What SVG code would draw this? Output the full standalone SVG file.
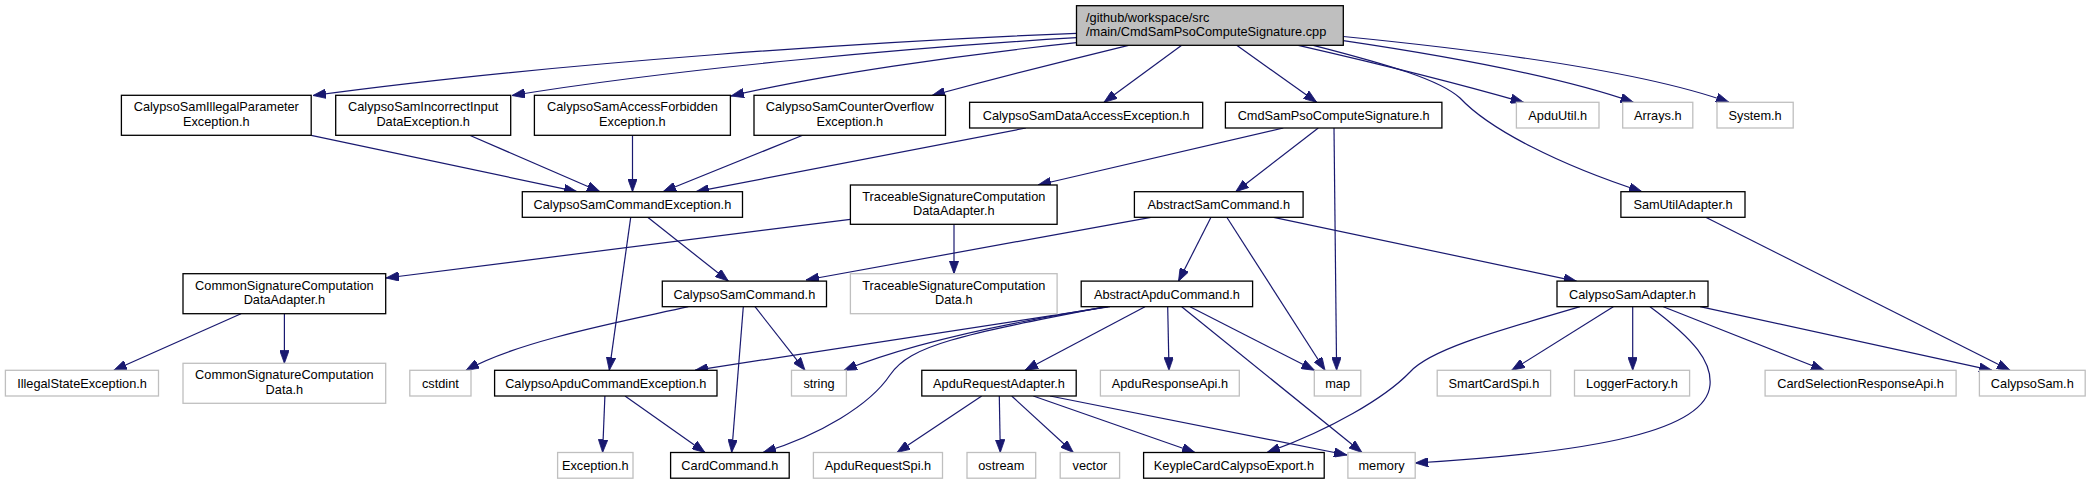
<svg xmlns="http://www.w3.org/2000/svg" width="2091" height="484" viewBox="0 0 2091 484">
<style>
rect{fill:#fff;stroke:#000;stroke-width:1.3}
.u rect{stroke:#bfbfbf}
.m rect{fill:#bfbfbf}
text{font-family:"Liberation Sans",Arial,Helvetica,sans-serif;font-size:12.75px;fill:#000;text-anchor:middle}
.m text{text-anchor:start}
#edges path{fill:none;stroke:#191970;stroke-width:1.2;marker-end:url(#ah)}
</style>
<defs>
<marker id="ah" markerUnits="userSpaceOnUse" viewBox="0 0 13 9.5" refX="13" refY="4.75" markerWidth="13" markerHeight="9.5" orient="auto">
<path d="M0,0 L13,4.75 L0,9.5 z" fill="#191970" stroke="#191970" stroke-width="0.8"/>
</marker>
</defs>
<g id="edges">
<path d="M1076.5,33.3 C880,41 560,62 313,95.5"/>
<path d="M1076.5,37.7 C920,47 680,68 512,95.5"/>
<path d="M1076.5,42.7 C960,55 820,75 731,96"/>
<path d="M1128.5,45.3 C1060,62 990,80 932,95.5"/>
<path d="M1181.7,45.3 L1104,102.3"/>
<path d="M1236.7,45.3 L1316.7,102.3"/>
<path d="M1298.3,45.3 C1380,64 1460,84 1523.6,102.3"/>
<path d="M1343.3,40.7 C1460,58 1570,80 1633.4,102.3"/>
<path d="M1343.3,36.5 C1480,50 1640,70 1729,102.3"/>
<path d="M1313.3,45.3 C1390,65 1440,80 1460,98 C1490,130 1560,165 1642,191.7"/>
<path d="M311.2,135.3 L577,191.7"/>
<path d="M469.6,135.3 L600,191.7"/>
<path d="M632.5,135.3 L632.5,191.7"/>
<path d="M802.7,135.3 L663,191.7"/>
<path d="M1025.9,128 L696,191.7"/>
<path d="M1283.3,128 L1038,185"/>
<path d="M1318.3,128 L1235.7,191.7"/>
<path d="M1334,128 L1336.6,370.3"/>
<path d="M647.7,217.3 L728.3,281"/>
<path d="M630.7,217.3 L609.3,370.3"/>
<path d="M850.4,219.3 L386,278"/>
<path d="M954,224.3 L954,273.7"/>
<path d="M1150.9,217.3 L806,280"/>
<path d="M1211,217.3 L1178.5,281.3"/>
<path d="M1226.8,217.3 L1325,370.3"/>
<path d="M1273.6,217.3 L1576.7,281.3"/>
<path d="M1705.7,217.3 L2010,370.3"/>
<path d="M241,313.7 L113.8,370.3"/>
<path d="M284.4,313.7 L284.4,363.3"/>
<path d="M688.3,306.7 C630,320 520,340 466,370.3"/>
<path d="M755,306.7 L805,370.3"/>
<path d="M743.3,306.7 L731.7,452.5"/>
<path d="M604.9,396 L602.6,452.5"/>
<path d="M625,396 L705,452.5"/>
<path d="M1110,306.7 L695,370.3"/>
<path d="M1108,306.7 Q930,335 844,370.3"/>
<path d="M1106,306.7 C960,335 910,345 890,375 C870,405 820,435 763,452.5"/>
<path d="M1145,306.7 L1025,370.3"/>
<path d="M1167.7,306.7 L1169,370.3"/>
<path d="M1190,306.7 L1314.5,370.3"/>
<path d="M1181.7,306.7 L1362,452.5"/>
<path d="M981.7,396 L897,452.5"/>
<path d="M999.3,396 L1000.3,452.5"/>
<path d="M1011.7,396 L1073.3,452.5"/>
<path d="M1033.3,396 L1195,452.5"/>
<path d="M1050,396 L1347,455"/>
<path d="M1580,306.7 C1490,333 1430,350 1410,372 C1385,398 1330,430 1267,452.5"/>
<path d="M1613.3,306.7 L1511.7,370.3"/>
<path d="M1632.7,306.7 L1632.7,370.3"/>
<path d="M1650,306.7 C1695,340 1712,362 1710,385 C1706,430 1600,452 1415.3,463"/>
<path d="M1663.3,306.7 L1824,370.3"/>
<path d="M1700,306.7 L1992,370.3"/>
</g>
<g id="main" class="m"><rect x="1076.5" y="5.7" width="266.8" height="39.6"/><text x="1086" y="21.5">/github/workspace/src</text><text x="1086" y="36">/main/CmdSamPsoComputeSignature.cpp</text></g>
<g id="n1"><rect x="121.4" y="95.3" width="189.8" height="40"/><text x="216.3" y="111.1">CalypsoSamIllegalParameter</text><text x="216.3" y="125.6">Exception.h</text></g>
<g id="n2"><rect x="335.7" y="95.3" width="175" height="40"/><text x="423.2" y="111.1">CalypsoSamIncorrectInput</text><text x="423.2" y="125.6">DataException.h</text></g>
<g id="n3"><rect x="534.4" y="95.3" width="196" height="40"/><text x="632.4" y="111.1">CalypsoSamAccessForbidden</text><text x="632.4" y="125.6">Exception.h</text></g>
<g id="n4"><rect x="754" y="95.3" width="191.5" height="40"/><text x="849.8" y="111.1">CalypsoSamCounterOverflow</text><text x="849.8" y="125.6">Exception.h</text></g>
<g id="n5"><rect x="969.6" y="102.3" width="233.1" height="25.7"/><text x="1086.2" y="119.8">CalypsoSamDataAccessException.h</text></g>
<g id="n6"><rect x="1225.4" y="102.3" width="216.5" height="25.7"/><text x="1333.7" y="119.8">CmdSamPsoComputeSignature.h</text></g>
<g id="n7" class="u"><rect x="1516.4" y="102.3" width="82.6" height="25.7"/><text x="1557.7" y="119.8">ApduUtil.h</text></g>
<g id="n8" class="u"><rect x="1622.7" y="102.3" width="70.1" height="25.7"/><text x="1657.8" y="119.8">Arrays.h</text></g>
<g id="n9" class="u"><rect x="1717" y="102.3" width="76.2" height="25.7"/><text x="1755.1" y="119.8">System.h</text></g>
<g id="n10"><rect x="522.3" y="191.7" width="220.2" height="25.6"/><text x="632.4" y="209.2">CalypsoSamCommandException.h</text></g>
<g id="n11"><rect x="850.4" y="185" width="206.7" height="39.3"/><text x="953.8" y="200.7">TraceableSignatureComputation</text><text x="953.8" y="215.1">DataAdapter.h</text></g>
<g id="n12"><rect x="1134.4" y="191.7" width="168.7" height="25.6"/><text x="1218.8" y="209.2">AbstractSamCommand.h</text></g>
<g id="n13"><rect x="1620.9" y="191.7" width="124.1" height="25.6"/><text x="1683" y="209.2">SamUtilAdapter.h</text></g>
<g id="n14"><rect x="183" y="273.7" width="202.7" height="40"/><text x="284.4" y="289.5">CommonSignatureComputation</text><text x="284.4" y="304">DataAdapter.h</text></g>
<g id="n15"><rect x="662.3" y="281.1" width="164.2" height="25.6"/><text x="744.4" y="298.6">CalypsoSamCommand.h</text></g>
<g id="n16" class="u"><rect x="850.4" y="273.7" width="206.7" height="40"/><text x="953.8" y="289.5">TraceableSignatureComputation</text><text x="953.8" y="304">Data.h</text></g>
<g id="n17"><rect x="1081.2" y="281.1" width="171.4" height="25.6"/><text x="1166.9" y="298.6">AbstractApduCommand.h</text></g>
<g id="n18"><rect x="1557" y="281.1" width="151" height="25.6"/><text x="1632.5" y="298.6">CalypsoSamAdapter.h</text></g>
<g id="n19" class="u"><rect x="5.4" y="370.3" width="153.1" height="25.7"/><text x="82" y="387.8">IllegalStateException.h</text></g>
<g id="n20" class="u"><rect x="183" y="363.3" width="202.7" height="40"/><text x="284.4" y="379.1">CommonSignatureComputation</text><text x="284.4" y="393.6">Data.h</text></g>
<g id="n21" class="u"><rect x="409.8" y="370.3" width="61.2" height="25.7"/><text x="440.4" y="387.8">cstdint</text></g>
<g id="n22"><rect x="494.6" y="370.3" width="222.4" height="25.7"/><text x="605.8" y="387.8">CalypsoApduCommandException.h</text></g>
<g id="n23" class="u"><rect x="791.5" y="370.3" width="54.9" height="25.7"/><text x="819" y="387.8">string</text></g>
<g id="n24"><rect x="921.8" y="370.3" width="154.4" height="25.7"/><text x="999" y="387.8">ApduRequestAdapter.h</text></g>
<g id="n25" class="u"><rect x="1100.4" y="370.3" width="138.9" height="25.7"/><text x="1169.9" y="387.8">ApduResponseApi.h</text></g>
<g id="n26" class="u"><rect x="1314.3" y="370.3" width="46.5" height="25.7"/><text x="1337.6" y="387.8">map</text></g>
<g id="n27" class="u"><rect x="1437.2" y="370.3" width="113.4" height="25.7"/><text x="1493.9" y="387.8">SmartCardSpi.h</text></g>
<g id="n28" class="u"><rect x="1574.5" y="370.3" width="115.1" height="25.7"/><text x="1632" y="387.8">LoggerFactory.h</text></g>
<g id="n29" class="u"><rect x="1765.1" y="370.3" width="191" height="25.7"/><text x="1860.6" y="387.8">CardSelectionResponseApi.h</text></g>
<g id="n30" class="u"><rect x="1979.4" y="370.3" width="105.8" height="25.7"/><text x="2032.3" y="387.8">CalypsoSam.h</text></g>
<g id="n31" class="u"><rect x="557.6" y="452.5" width="75.4" height="25.7"/><text x="595.3" y="470">Exception.h</text></g>
<g id="n32"><rect x="670.6" y="452.5" width="118.6" height="25.7"/><text x="729.9" y="470">CardCommand.h</text></g>
<g id="n33" class="u"><rect x="813.4" y="452.5" width="129.1" height="25.7"/><text x="878" y="470">ApduRequestSpi.h</text></g>
<g id="n34" class="u"><rect x="967" y="452.5" width="68.7" height="25.7"/><text x="1001.3" y="470">ostream</text></g>
<g id="n35" class="u"><rect x="1060.2" y="452.5" width="59.4" height="25.7"/><text x="1089.9" y="470">vector</text></g>
<g id="n36"><rect x="1143.6" y="452.5" width="180.6" height="25.7"/><text x="1233.9" y="470">KeypleCardCalypsoExport.h</text></g>
<g id="n37" class="u"><rect x="1347.9" y="452.5" width="67.3" height="25.7"/><text x="1381.5" y="470">memory</text></g>
</svg>
